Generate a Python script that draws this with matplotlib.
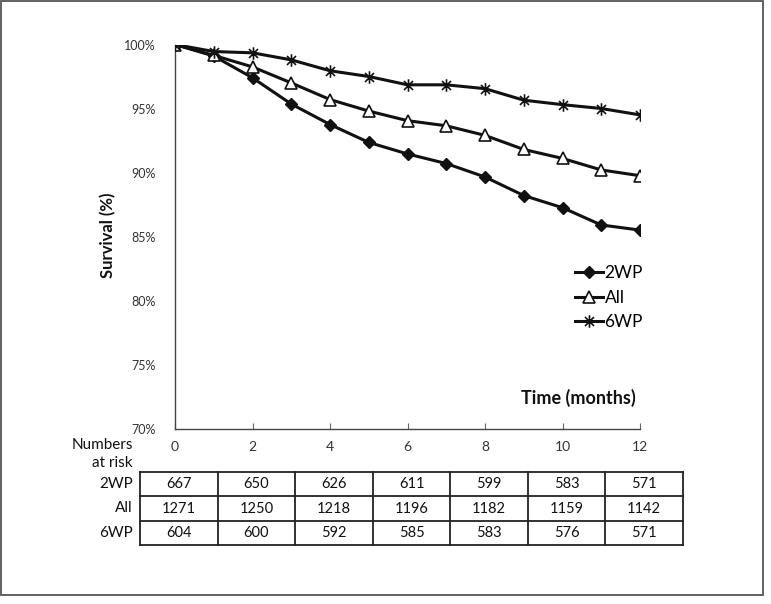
import numpy as np
import matplotlib
matplotlib.use("Agg")
import matplotlib.pyplot as plt
from matplotlib.path import Path
from matplotlib.patches import Rectangle

# ---- data ----
months = np.arange(0, 13)
surv_2wp = [100, 99.1, 97.4, 95.35, 93.75, 92.35, 91.45, 90.7, 89.65, 88.2, 87.25, 85.9, 85.5]
surv_all = [100, 99.15, 98.25, 97.0, 95.7, 94.8, 94.05, 93.65, 92.9, 91.8, 91.1, 90.2, 89.75]
surv_6wp = [100, 99.45, 99.35, 98.8, 97.95, 97.5, 96.85, 96.85, 96.55, 95.65, 95.3, 95.0, 94.5]

x_ticks = [0, 2, 4, 6, 8, 10, 12]
y_ticks = [70, 75, 80, 85, 90, 95, 100]
y_labels = ["70%", "75%", "80%", "85%", "90%", "95%", "100%"]

risk_groups = ["2WP", "All", "6WP"]
risk_2wp = [667, 650, 626, 611, 599, 583, 571]
risk_all = [1271, 1250, 1218, 1196, 1182, 1159, 1142]
risk_6wp = [604, 600, 592, 585, 583, 576, 571]

plt.rcParams['font.family'] = ['Lato', 'DejaVu Sans']

W, H = 771, 604
fig = plt.figure(figsize=(W / 100, H / 100), dpi=100)

def px(x0, y0, x1, y1):
    # pixel box (top-left origin) -> figure fraction rect
    return [x0 / W, 1 - y1 / H, (x1 - x0) / W, (y1 - y0) / H]

# asterisk marker: vertical bar + X
star = Path([(0, -1), (0, 1), (-0.72, -0.72), (0.72, 0.72), (-0.72, 0.72), (0.72, -0.72)],
            [Path.MOVETO, Path.LINETO, Path.MOVETO, Path.LINETO, Path.MOVETO, Path.LINETO])

ax = fig.add_axes(px(175, 44.5, 640, 428.5))
ax.plot(months, surv_2wp, color='#111111', lw=2.2, marker='D', ms=6,
        mfc='#111111', mec='#111111', label='2WP', zorder=3)
ax.plot(months, surv_all, color='#111111', lw=2.2, marker='^', ms=8.5,
        mfc='white', mec='#111111', mew=1.2, label='All', zorder=3)
ax.plot(months, surv_6wp, color='#111111', lw=2.2, marker=star, ms=9,
        mfc='none', mec='#111111', mew=1.2, label='6WP', zorder=3)

ax.set_xlim(0, 12)
ax.set_ylim(70, 100)
ax.set_xticks(x_ticks)
ax.set_xticklabels([str(t) for t in x_ticks], fontsize=10, color='#333333')
ax.set_yticks(y_ticks)
ax.set_yticklabels(y_labels, fontsize=9, color='#333333')
ax.tick_params(axis='x', direction='in', length=4, width=0.8, color='#666666', pad=9)
ax.tick_params(axis='y', length=0, pad=14)
for s in ['top', 'right']:
    ax.spines[s].set_visible(False)
for s in ['left', 'bottom']:
    ax.spines[s].set_color('#444444')
    ax.spines[s].set_linewidth(1.0)
ax.patch.set_alpha(0)

ax.set_ylabel('Survival (%)', fontsize=12, fontweight='bold', color='#111111')
ax.yaxis.set_label_coords((116.5 - 175) / 465, 1 - (235 - 44.5) / 384)
ax.text(11.88, 72.4, 'Time (months)', ha='right', va='center', fontsize=13,
        fontweight='bold', color='#111111')

ax.legend(loc='upper left', bbox_to_anchor=(575 / W, 1 - 265 / H),
          bbox_transform=fig.transFigure, frameon=False, fontsize=12.5,
          handlelength=1.6, handletextpad=0.1, labelspacing=0.5,
          borderpad=0, borderaxespad=0)

# ---- numbers at risk table ----
fig.text(133 / W, 1 - 445 / H, 'Numbers', ha='right', va='center', fontsize=11, color='#111111')
fig.text(133 / W, 1 - 463 / H, 'at risk', ha='right', va='center', fontsize=11, color='#111111')

tax = fig.add_axes(px(140, 471.5, 683, 545))
tax.set_xlim(0, len(x_ticks))
tax.set_ylim(len(risk_groups), 0)
tax.axis('off')
for r in range(len(risk_groups) + 1):
    tax.plot([0, len(x_ticks)], [r, r], color='#222222', lw=1.3, clip_on=False,
             solid_capstyle='projecting')
for c in range(len(x_ticks) + 1):
    tax.plot([c, c], [0, len(risk_groups)], color='#222222', lw=1.3, clip_on=False,
             solid_capstyle='projecting')
for r, (name, row) in enumerate(zip(risk_groups, [risk_2wp, risk_all, risk_6wp])):
    tax.text(-0.09, r + 0.5, name, ha='right', va='center', fontsize=11, color='#111111')
    for c, v in enumerate(row):
        tax.text(c + 0.5, r + 0.52, str(v), ha='center', va='center', fontsize=10.5, color='#111111')

# outer frame
fig.patches.append(Rectangle((1 / W, 1 - 595 / H), 762 / W, 594 / H, transform=fig.transFigure,
                             fill=False, edgecolor='#555555', lw=1.3))

fig.savefig('out.png', dpi=100)
